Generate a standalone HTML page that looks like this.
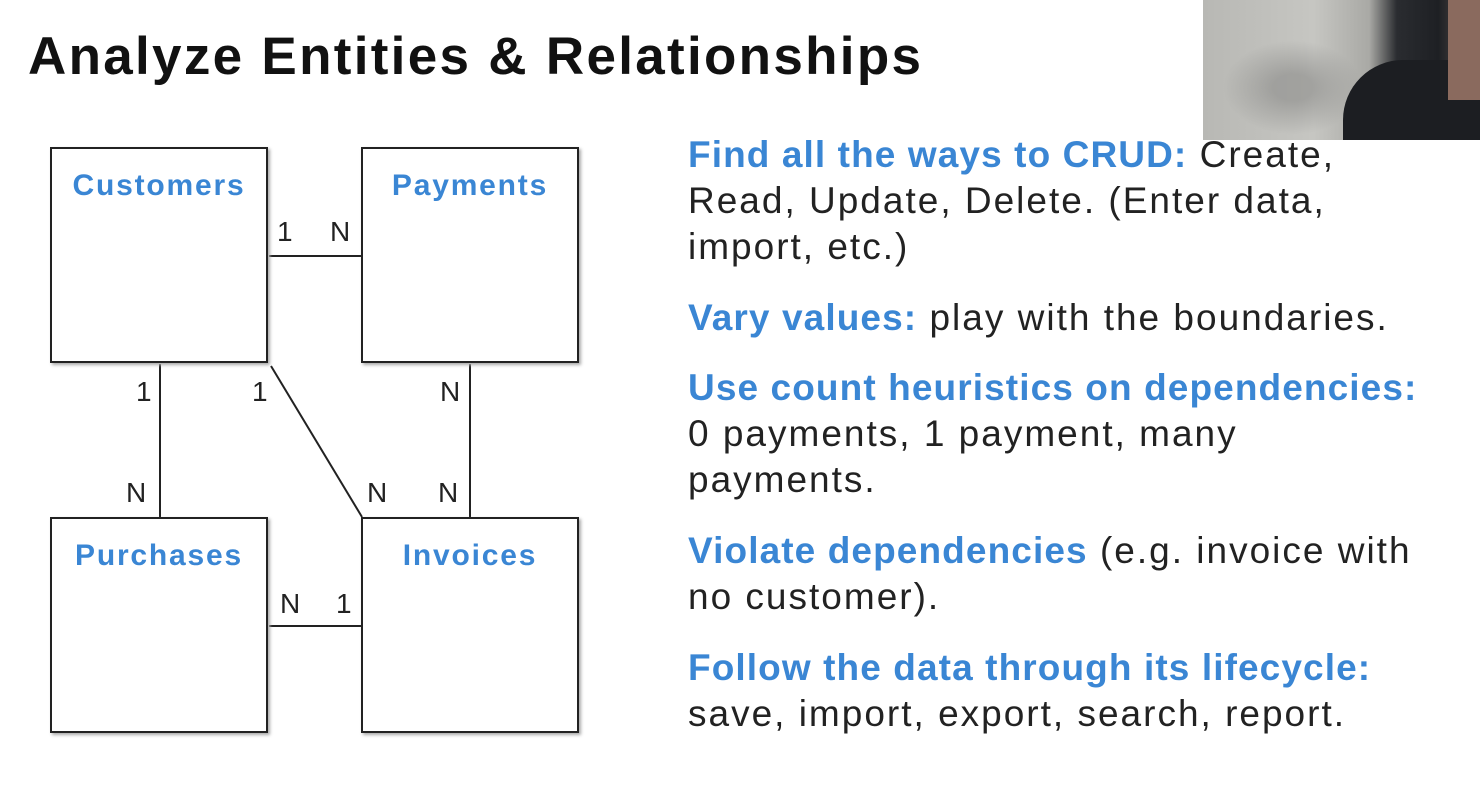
<!DOCTYPE html>
<html><head><meta charset="utf-8"><style>
body{margin:0;width:1480px;height:791px;background:#fff;position:relative;overflow:hidden;font-family:"Liberation Sans","DejaVu Sans",sans-serif}
.t{position:absolute;white-space:nowrap}
.title{left:28px;top:26px;font-size:53px;font-weight:bold;color:#111;letter-spacing:2.3px}
.box{position:absolute;width:218px;height:216px;border:2px solid #222;box-shadow:2px 2px 3px #aaa;box-sizing:border-box}
.lbl{position:absolute;width:100%;top:20px;text-align:center;color:#3a86d4;font-size:30px;font-weight:bold;letter-spacing:1.8px}
.n{position:absolute;font-size:28px;color:#222}
.r{left:688px;font-size:37px;color:#222;line-height:46px;letter-spacing:2px}
.b{color:#3a86d4;font-weight:bold;letter-spacing:1.1px}
.cam{position:absolute;left:1203px;top:0;width:277px;height:140px;background:linear-gradient(90deg,#b8b8b4 0%,#c6c6c2 40%,#a9a9a5 60%,#2a2c30 70%,#1e2024 85%,#6a5a55 100%)}
</style></head><body>
<div class="t title">Analyze Entities &amp; Relationships</div>
<div class="cam">
<div style="position:absolute;left:20px;top:40px;width:140px;height:95px;background:radial-gradient(#8a8a88 20%,transparent 70%);opacity:.6"></div>
<div style="position:absolute;left:140px;top:60px;width:137px;height:80px;background:#1c1e22;border-radius:60px 0 0 0"></div>
<div style="position:absolute;left:245px;top:0;width:32px;height:100px;background:#8a6a5e"></div>
</div>
<svg style="position:absolute;left:0;top:0" width="700" height="791">
<g stroke="#222" stroke-width="2" fill="none">
<line x1="269" y1="256" x2="361" y2="256"/>
<line x1="160" y1="364" x2="160" y2="517"/>
<line x1="271" y1="366" x2="362" y2="517"/>
<line x1="470" y1="364" x2="470" y2="517"/>
<line x1="269" y1="626" x2="361" y2="626"/>
</g></svg>
<div class="box" style="left:50px;top:147px"><div class="lbl">Customers</div></div>
<div class="box" style="left:361px;top:147px"><div class="lbl">Payments</div></div>
<div class="box" style="left:50px;top:517px"><div class="lbl">Purchases</div></div>
<div class="box" style="left:361px;top:517px"><div class="lbl">Invoices</div></div>
<div class="n" style="left:277px;top:216px">1</div>
<div class="n" style="left:330px;top:216px">N</div>
<div class="n" style="left:136px;top:376px">1</div>
<div class="n" style="left:252px;top:376px">1</div>
<div class="n" style="left:440px;top:376px">N</div>
<div class="n" style="left:126px;top:477px">N</div>
<div class="n" style="left:367px;top:477px">N</div>
<div class="n" style="left:438px;top:477px">N</div>
<div class="n" style="left:280px;top:588px">N</div>
<div class="n" style="left:336px;top:588px">1</div>
<div class="t r" style="top:132px"><span class="b">Find all the ways to CRUD:</span> Create,<br>Read, Update, Delete. (Enter data,<br>import, etc.)</div>
<div class="t r" style="top:295px"><span class="b">Vary values:</span> play with the boundaries.</div>
<div class="t r" style="top:365px"><span class="b">Use count heuristics on dependencies:</span><br>0 payments, 1 payment, many<br>payments.</div>
<div class="t r" style="top:528px"><span class="b">Violate dependencies</span> (e.g. invoice with<br>no customer).</div>
<div class="t r" style="top:645px"><span class="b">Follow the data through its lifecycle:</span><br>save, import, export, search, report.</div>
</body></html>
